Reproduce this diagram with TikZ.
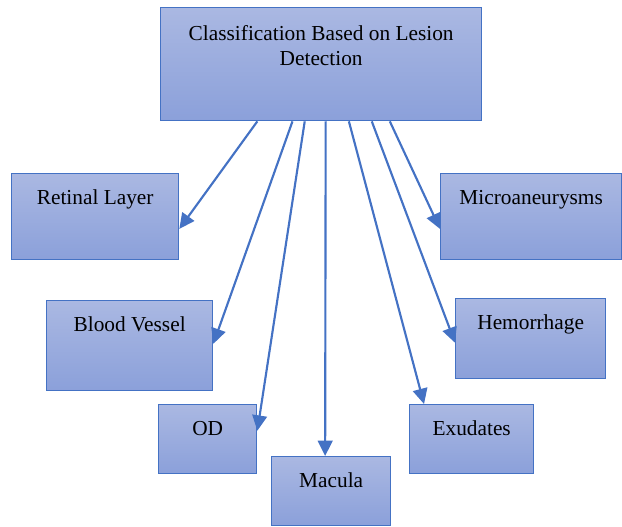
\documentclass[tikz,border=0pt]{standalone}
\usepackage{fontspec}
\setmainfont{Liberation Serif}
\usetikzlibrary{positioning,calc,arrows.meta}
\definecolor{boxline}{HTML}{4472C4}
\definecolor{boxtop}{HTML}{AAB8E2}
\definecolor{boxbot}{HTML}{8BA0DA}
\newcommand{\px}{0.75pt}

\begin{document}
\begin{tikzpicture}[x=0.75pt, y=-0.75pt, >={Triangle[length=11.5pt,width=11pt]},
  lesion/.style={draw=boxline, line width=1pt, top color=boxtop, bottom color=boxbot, inner sep=0pt, anchor=north west},
  caption/.style={font=\fontsize{16}{18.75}\selectfont, align=center, inner sep=0pt},
  link/.style={->, draw=boxline, line width=1.6pt}]
\useasboundingbox (0,0) rectangle (622,526);

\node[lesion, minimum width=321*\px, minimum height=113*\px] (cls) at (160,7) {};
\node[lesion, minimum width=167*\px, minimum height=86*\px] (rl) at (11,173) {};
\node[lesion, minimum width=166*\px, minimum height=90*\px] (bv) at (46,300) {};
\node[lesion, minimum width=98*\px, minimum height=69*\px] (od) at (158,404) {};
\node[lesion, minimum width=119*\px, minimum height=69*\px] (mac) at (271,456) {};
\node[lesion, minimum width=124*\px, minimum height=69*\px] (ex) at (409,404) {};
\node[lesion, minimum width=150*\px, minimum height=80*\px] (hem) at (455,298) {};
\node[lesion, minimum width=181*\px, minimum height=86*\px] (mic) at (440,173) {};

% texts
\node[caption, anchor=north, yshift=-14pt] (cls-txt) at (cls.north) {Classification Based on Lesion\\Detection};
\node[caption, anchor=base, yshift=-23.25pt] (rl-txt) at (rl.north) {Retinal Layer};
\node[caption, anchor=base, yshift=-23.25pt] (bv-txt) at (bv.north) {Blood Vessel};
\node[caption, anchor=base, yshift=-23.25pt] (od-txt) at (od.north) {OD};
\node[caption, anchor=base, yshift=-23.25pt] (mac-txt) at (mac.north) {Macula};
\node[caption, anchor=base, yshift=-23.25pt] (ex-txt) at (ex.north) {Exudates};
\node[caption, anchor=base, yshift=-23.25pt] (hem-txt) at (hem.north) {Hemorrhage};
\node[caption, anchor=base, yshift=-23.25pt] (mic-txt) at (mic.north) {Microaneurysms};

\draw[link] ($(cls.south west)!0.302!(cls.south east)$) -- ($(rl.north east)!0.64!(rl.south east)$);
\draw[link] ($(cls.south west)!0.411!(cls.south east)$) -- ($(bv.north east)!0.48!(bv.south east)$);
\draw[link] ($(cls.south west)!0.449!(cls.south east)$) -- ($(od.north east)!0.38!(od.south east)$);
\draw[link] ($(cls.south west)!0.514!(cls.south east)$) -- ($(mac.north west)!0.45!(mac.north east)$);
\draw[link] ($(cls.south west)!0.586!(cls.south east)$) -- ($(ex.north west)!0.12!(ex.north east)$);
\draw[link] ($(cls.south west)!0.657!(cls.south east)$) -- ($(hem.north west)!0.55!(hem.south west)$);
\draw[link] ($(cls.south west)!0.713!(cls.south east)$) -- ($(mic.north west)!0.64!(mic.south west)$);
\end{tikzpicture}
\end{document}
